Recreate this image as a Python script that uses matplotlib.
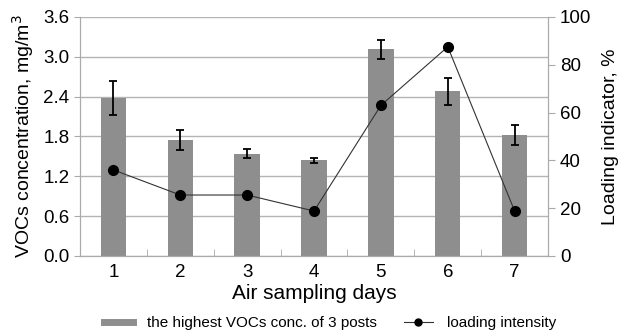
import matplotlib.pyplot as plt
from matplotlib.lines import Line2D
import numpy as np

plt.rcParams['font.family'] = ['Liberation Sans', 'DejaVu Sans']

days = [1, 2, 3, 4, 5, 6, 7]
vocs = [2.38, 1.74, 1.54, 1.44, 3.11, 2.48, 1.82]
vocs_err = [0.25, 0.15, 0.07, 0.035, 0.14, 0.2, 0.15]
loading = [36, 25.5, 25.5, 18.8, 63, 87.5, 18.8]

fig = plt.figure(figsize=(6.2, 3.32), dpi=100)
ax = fig.add_axes([0.129, 0.229, 0.755, 0.72])
ax2 = ax.twinx()

x = np.array(days)
ax.bar(x, vocs, width=0.38, color='#8e8e8e', zorder=2)
ax.errorbar(x, vocs, yerr=vocs_err, fmt='none', ecolor='black',
            elinewidth=1.3, capsize=3, capthick=1.3, zorder=3)

ax2.plot(x, loading, color='#333333', lw=0.8, marker='o',
         markersize=7, markerfacecolor='black', markeredgecolor='black')

ax.set_xlim(0.5, 7.5)
ax.set_ylim(0, 3.6)
ax.set_yticks(np.arange(0, 3.61, 0.6))
ax.set_yticklabels(['%.1f' % v for v in np.arange(0, 3.61, 0.6)])
ax2.set_ylim(0, 100)
ax2.set_yticks(range(0, 101, 20))

ax.grid(axis='y', color='#b4b4b4', lw=1.0, zorder=0)
ax.set_axisbelow(True)

ax.set_xticks(days)
ax.set_xticks(np.arange(1.5, 7.5, 1), minor=True)
ax.tick_params(axis='x', which='major', length=0, labelsize=13.5, pad=6)
ax.tick_params(axis='x', which='minor', length=5, color='#aaaaaa', direction='in')
ax.tick_params(axis='y', length=4, color='#aaaaaa', labelsize=13.5)
ax2.tick_params(axis='y', length=5, color='#aaaaaa', labelsize=13.5)

for a in (ax, ax2):
    a.spines['top'].set_visible(False)
    for s in ('left', 'right', 'bottom'):
        a.spines[s].set_color('#aaaaaa')

ax.set_xlabel('Air sampling days', fontsize=15, labelpad=2)
ax.set_ylabel('VOCs concentration, mg/m$^3$', fontsize=14, labelpad=5)
ax2.set_ylabel('Loading indicator, %', fontsize=14, labelpad=8)

h_bar = Line2D([], [], color='#8e8e8e', lw=5)
h_line = Line2D([], [], color='#333333', lw=0.8, marker='o', markersize=5,
                markerfacecolor='black', markeredgecolor='black')
fig.legend([h_bar, h_line], ['the highest VOCs conc. of 3 posts', 'loading intensity'],
           loc='lower center', bbox_to_anchor=(0.532, -0.035), ncol=2,
           frameon=False, fontsize=11, columnspacing=1.8, handlelength=1.9,
           handletextpad=0.9)

fig.savefig('out.png', dpi=100)
